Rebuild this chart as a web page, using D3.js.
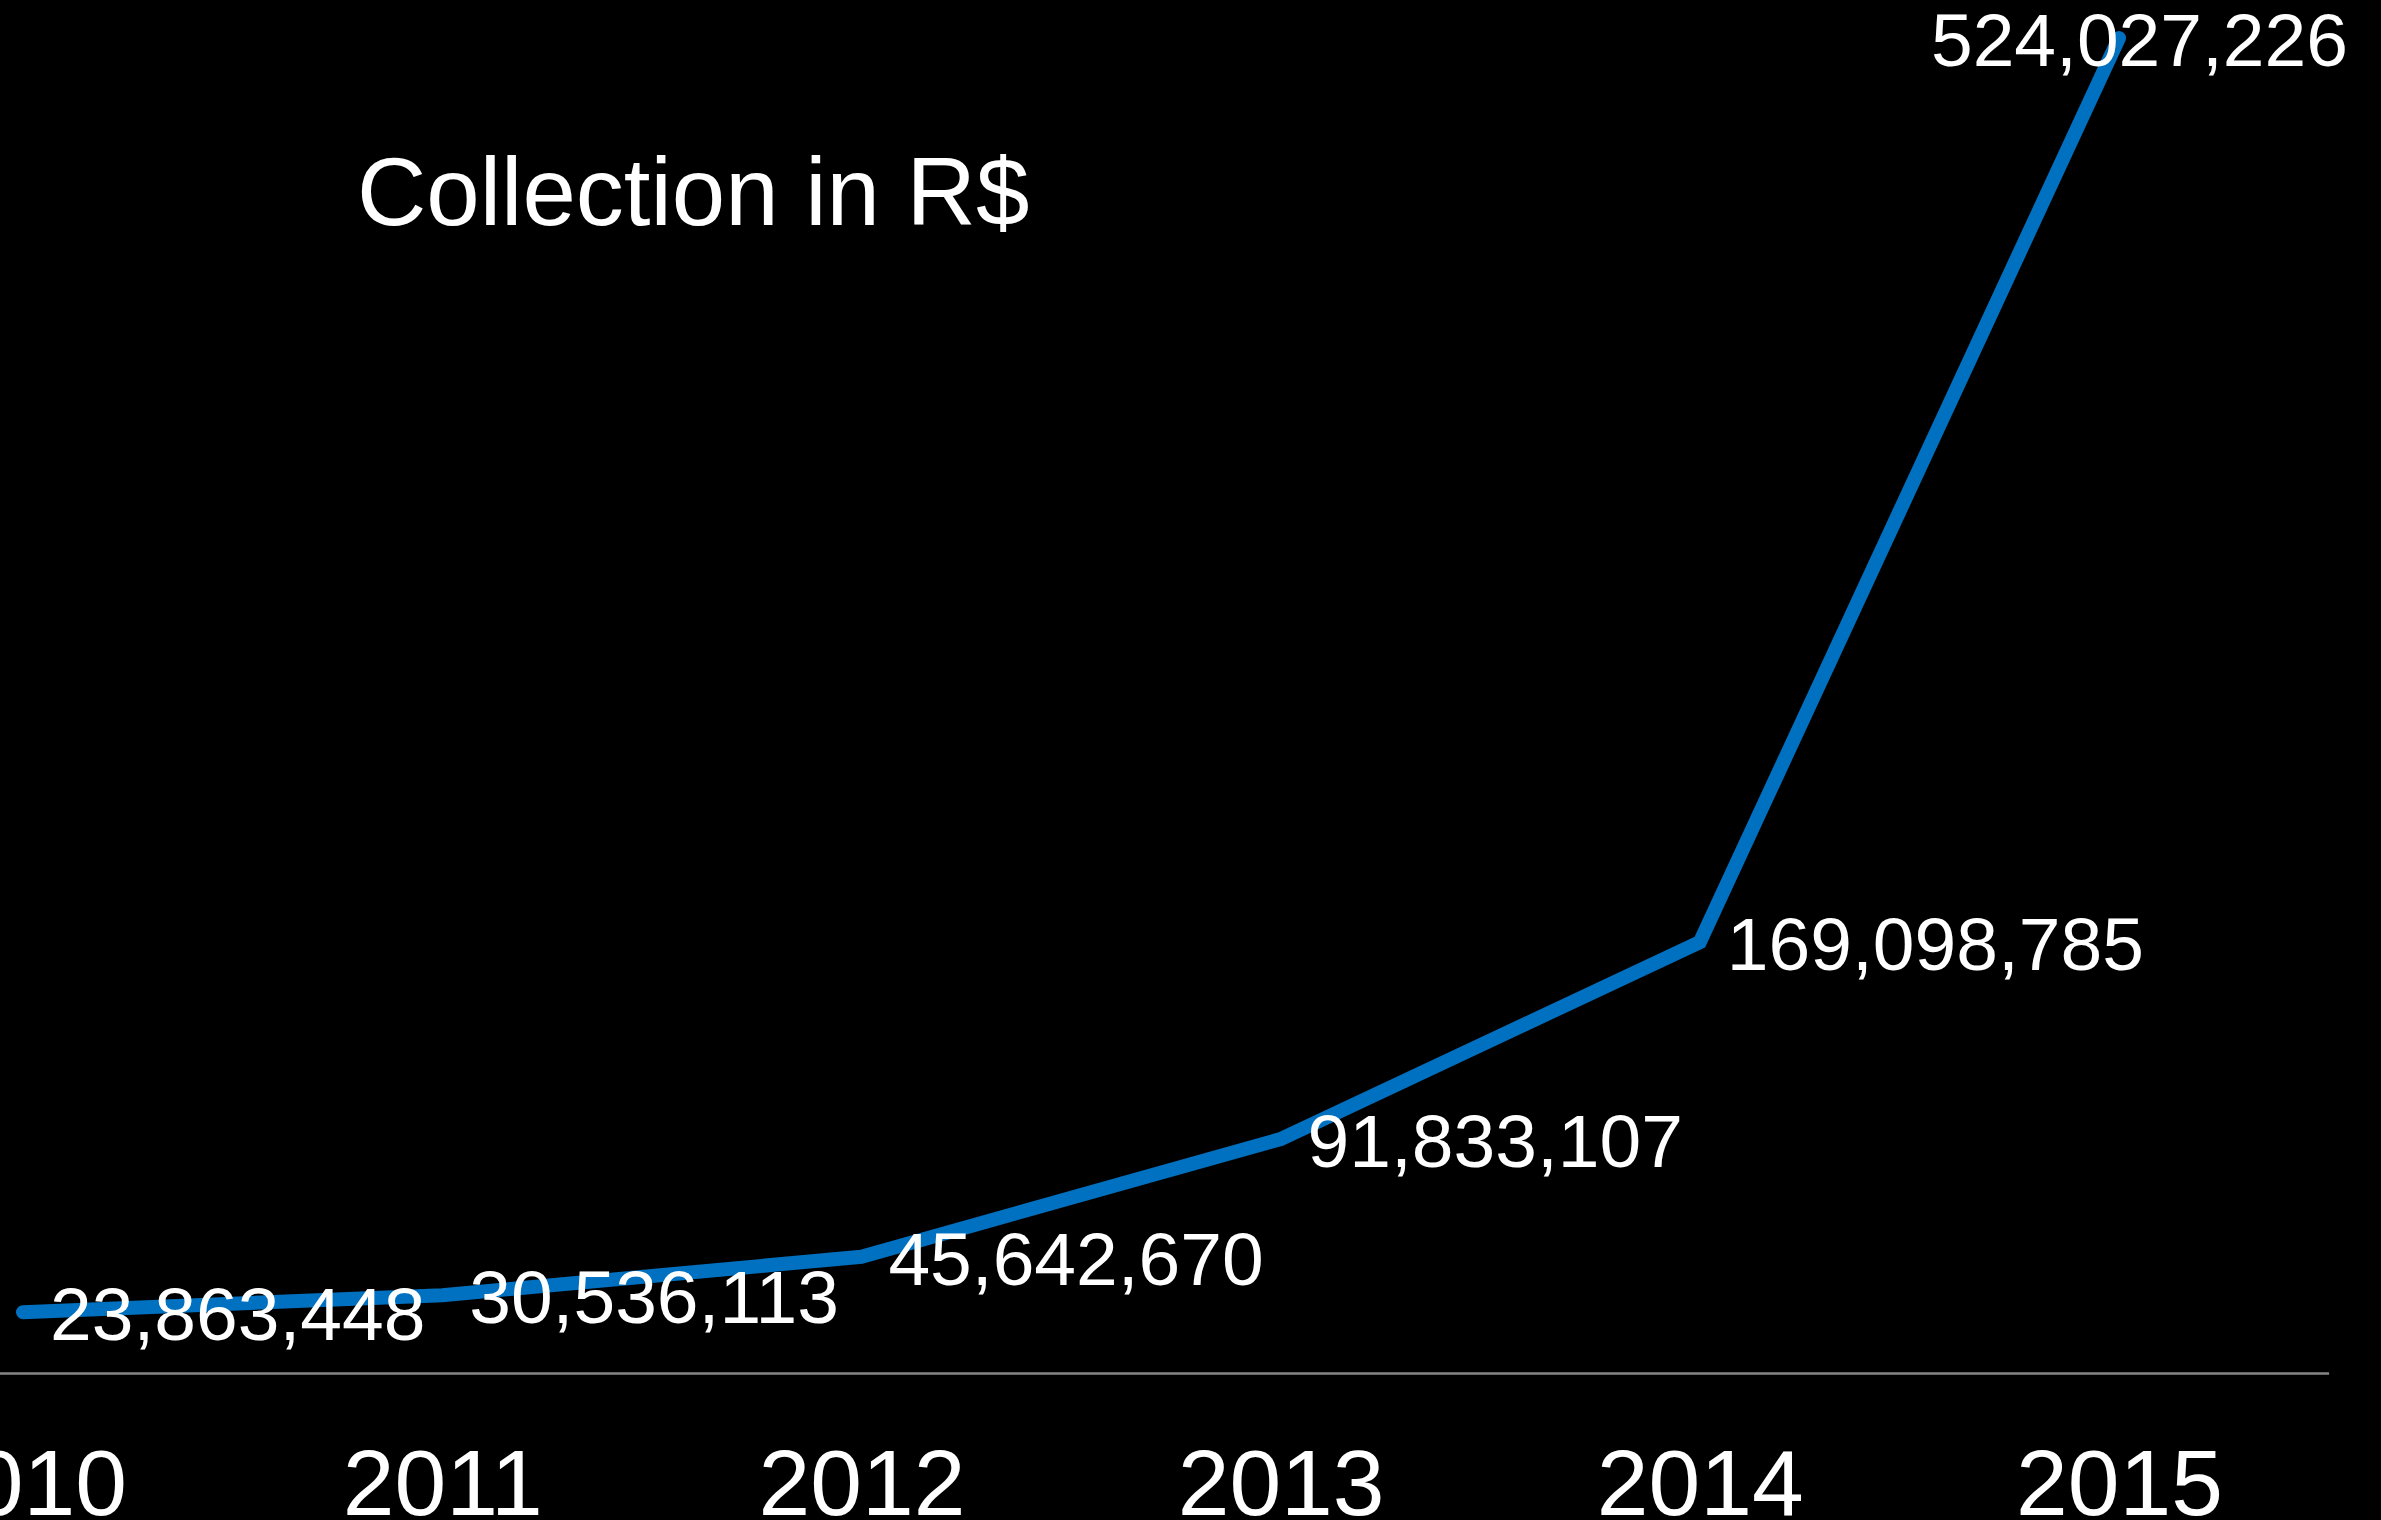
<!DOCTYPE html>
<html>
<head>
<meta charset="utf-8">
<script src="https://cdn.jsdelivr.net/npm/d3@7"></script>
<style>
  html, body { margin: 0; padding: 0; background: #000; overflow: hidden; }
  svg { display: block; }
</style>
</head>
<body>
<svg id="chart" width="2381" height="1520"></svg>
<script>
const years = ["2010", "2011", "2012", "2013", "2014", "2015"];
const collection = [23863448, 30536113, 45642670, 91833107, 169098785, 524027226];
const titleText = "Collection in R$";

const W = 2381, H = 1520;
const FONT = "'Liberation Sans', Arial, Helvetica, sans-serif";
const svg = d3.select("#chart").style("background", "#000");

svg.append("rect").attr("width", W).attr("height", H).attr("fill", "#000");

const x = d3.scalePoint().domain(years).range([-186.6, 2328.6]).padding(0.5);
const y = d3.scaleLinear().domain([0, 524027226]).range([1373, 38]);

// x axis
const axis = d3.axisBottom(x).tickSize(0).tickSizeOuter(0).tickPadding(0);
const gx = svg.append("g").attr("transform", `translate(0,${y(0)})`).call(axis);
gx.select(".domain").attr("stroke", "#868686").attr("stroke-width", 2.5);
gx.selectAll(".tick text")
  .attr("y", 142).attr("dy", 0)
  .attr("fill", "#fff")
  .style("font-family", FONT)
  .style("font-size", "93px");

// line
const data = years.map((yr, i) => ({ yr, v: collection[i] }));
const line = d3.line().x(d => x(d.yr)).y(d => y(d.v));
svg.append("path")
  .datum(data)
  .attr("d", line)
  .attr("fill", "none")
  .attr("stroke", "#0070C0")
  .attr("stroke-width", 14)
  .attr("stroke-linecap", "round")
  .attr("stroke-linejoin", "miter");

// data labels (right of point, vertically centered; kept inside right edge)
const fmt = d3.format(",");
const rightLimit = 2348;
svg.append("g").selectAll("text")
  .data(data)
  .join("text")
  .attr("x", d => x(d.yr) + 27)
  .attr("y", d => y(d.v) + 28)
  .attr("fill", "#fff")
  .style("font-family", FONT)
  .style("font-size", "75px")
  .text(d => fmt(d.v))
  .each(function () {
    const el = d3.select(this);
    const w = this.getComputedTextLength();
    const x0 = +el.attr("x");
    if (x0 + w > rightLimit) el.attr("x", rightLimit - w);
  });

// title
svg.append("text")
  .attr("x", 357)
  .attr("y", 225)
  .attr("fill", "#fff")
  .style("font-family", FONT)
  .style("font-size", "96px")
  .text(titleText);
</script>
</body>
</html>
